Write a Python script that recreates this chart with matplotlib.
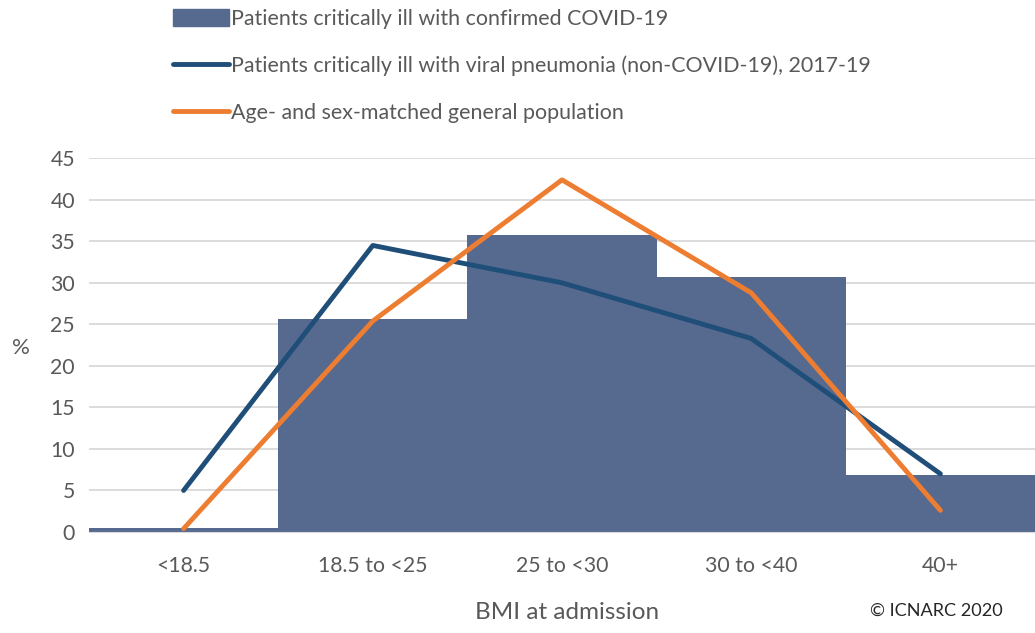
import matplotlib.pyplot as plt
from matplotlib.patches import Patch
from matplotlib.lines import Line2D

plt.rcParams['font.family'] = ['Lato', 'DejaVu Sans']

categories = ['<18.5', '18.5 to <25', '25 to <30', '30 to <40', '40+']
covid = [0.5, 25.7, 35.7, 30.7, 6.9]
viral_pneumonia = [5.0, 34.5, 30.0, 23.3, 7.0]
general_pop = [0.4, 25.4, 42.4, 28.8, 2.6]

grey = '#595959'
bar_col = '#56698F'
blue = '#1F4E79'
orange = '#ED7D31'

fig = plt.figure(figsize=(10.35, 6.33), dpi=100)
ax = fig.add_axes([0.086, 0.1596, 0.914, 0.5904])

x = list(range(len(categories)))
ax.bar(x, covid, width=1.0, color=bar_col, zorder=2)
ax.plot(x, viral_pneumonia, color=blue, lw=3.5, solid_capstyle='round', zorder=3)
ax.plot(x, general_pop, color=orange, lw=3.5, solid_capstyle='round', zorder=4)

ax.set_xlim(-0.5, 4.5)
ax.set_ylim(0, 45)
ax.set_yticks(range(0, 46, 5))
ax.set_xticks(x)
ax.set_xticklabels(categories)
ax.grid(axis='y', color='#D9D9D9', lw=1.3, zorder=0)
ax.set_axisbelow(True)
for s in ['top', 'right', 'left']:
    ax.spines[s].set_visible(False)
ax.spines['bottom'].set_color('#D9D9D9')
ax.tick_params(length=0, labelsize=15.3, colors=grey, pad=10)
ax.tick_params(axis='x', pad=17)

fig.text(0.02, 0.45, '%', fontsize=16, color=grey, ha='center', va='center')
fig.text(0.548, 0.033, 'BMI at admission', fontsize=17.5, color=grey, ha='center', va='center')
fig.text(0.905, 0.035, '\u00a9 ICNARC 2020', fontsize=13.1, color='#262626', ha='center', va='center')

handles = [
    Patch(color=bar_col),
    Line2D([0], [0], color=blue, lw=3.5, solid_capstyle='round'),
    Line2D([0], [0], color=orange, lw=3.5, solid_capstyle='round'),
]
labels = [
    'Patients critically ill with confirmed COVID-19',
    'Patients critically ill with viral pneumonia (non-COVID-19), 2017-19',
    'Age- and sex-matched general population',
]
leg = fig.legend(handles, labels, loc='upper left', bbox_to_anchor=(0.159, 0.999),
                 frameon=False, fontsize=15.4, labelspacing=1.24, handlelength=2.6,
                 handleheight=0.85, handletextpad=0.1, borderaxespad=0)
for t in leg.get_texts():
    t.set_color(grey)

fig.savefig('out.png', dpi=100)
